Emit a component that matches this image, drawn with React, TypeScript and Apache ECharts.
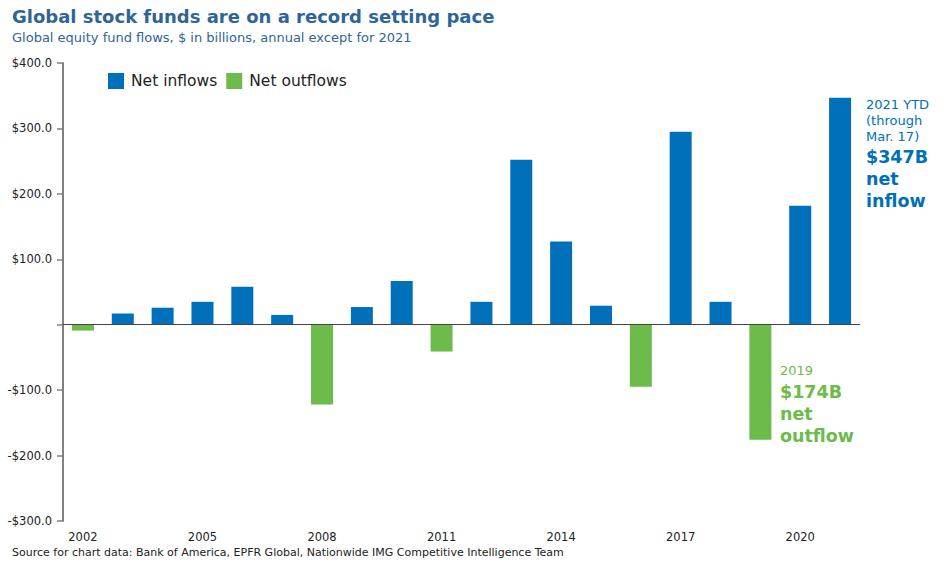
import React, { useEffect, useRef } from "react";
import * as echarts from "echarts";

const years = ["2002","2003","2004","2005","2006","2007","2008","2009","2010","2011","2012","2013","2014","2015","2016","2017","2018","2019","2020","2021"];
const flows = [-9, 17, 26, 35, 58, 15, -122, 27, 67, -41, 35, 252, 127, 29, -95, 295, 35, -176, 182, 347];
const yTicks = { min: -300, max: 400, interval: 100 };

const BLUE = "#0070BA";
const GREEN = "#6CBB4B";
const FONT = "'DejaVu Sans', 'Noto Sans', sans-serif";

export default function App() {
  const ref = useRef<HTMLDivElement>(null);
  useEffect(() => {
    const chart = echarts.init(ref.current!, null, { renderer: "svg" });
    const inflows = flows.map((v) => (v >= 0 ? v : "-"));
    const outflows = flows.map((v) => (v < 0 ? v : "-"));
    chart.setOption({
      animation: false,
      textStyle: { fontFamily: FONT },
      grid: { left: 63, top: 63, right: 90, bottom: 45 },
      legend: {
        left: 108,
        top: 73,
        padding: 0,
        itemWidth: 16,
        itemHeight: 16,
        itemGap: 9,
        icon: "rect",
        textStyle: { fontSize: 15.5, color: "#222", fontFamily: FONT, padding: [0, 0, 0, 2] },
        data: ["Net inflows", "Net outflows"],
      },
      xAxis: {
        type: "category",
        data: years,
        axisLine: { show: false, onZero: false },
        axisTick: { show: false },
        axisLabel: {
          interval: 2,
          fontSize: 11.5,
          color: "#222",
          margin: 10,
          fontFamily: FONT,
        },
      },
      yAxis: {
        type: "value",
        min: yTicks.min,
        max: yTicks.max,
        interval: yTicks.interval,
        splitLine: { show: false },
        axisLine: { show: true, lineStyle: { color: "#808080", width: 2 } },
        axisTick: { show: true, length: 6, lineStyle: { color: "#808080", width: 1.5 } },
        axisLabel: {
          fontSize: 11.5,
          color: "#222",
          margin: 11,
          fontFamily: FONT,
          formatter: (v: number) =>
            v === 0 ? "" : (v < 0 ? "-$" : "$") + Math.abs(v).toFixed(1),
        },
      },
      series: [
        {
          name: "Net inflows",
          type: "bar",
          data: inflows,
          barWidth: 22,
          barGap: "-100%",
          itemStyle: { color: BLUE },
          markLine: {
            silent: true,
            symbol: "none",
            label: { show: false },
            lineStyle: { color: "#444", width: 1.2, type: "solid" },
            data: [{ yAxis: 0 }],
          },
        },
        {
          name: "Net outflows",
          type: "bar",
          data: outflows,
          barWidth: 22,
          barGap: "-100%",
          itemStyle: { color: GREEN },
        },
      ],
      graphic: [
        {
          type: "text",
          left: 12,
          top: 7,
          style: {
            text: "Global stock funds are on a record setting pace",
            font: `bold 18px ${FONT}`,
            fill: "#2F6497",
          },
        },
        {
          type: "text",
          left: 12,
          top: 31,
          style: {
            text: "Global equity fund flows, $ in billions, annual except for 2021",
            font: `13px ${FONT}`,
            fill: "#2F6497",
          },
        },
        {
          type: "text",
          left: 866,
          top: 96,
          style: {
            text: "2021 YTD\n(through\nMar. 17)",
            font: `13px ${FONT}`,
            lineHeight: 16,
            fill: BLUE,
          },
        },
        {
          type: "text",
          left: 866,
          top: 146,
          style: {
            text: "$347B\nnet\ninflow",
            font: `bold 17.5px ${FONT}`,
            lineHeight: 22,
            fill: BLUE,
          },
        },
        {
          type: "text",
          left: 780,
          top: 364,
          style: {
            text: "2019",
            font: `13px ${FONT}`,
            fill: GREEN,
          },
        },
        {
          type: "text",
          left: 780,
          top: 381,
          style: {
            text: "$174B\nnet\noutflow",
            font: `bold 17.5px ${FONT}`,
            lineHeight: 22,
            fill: GREEN,
          },
        },
        {
          type: "text",
          left: 12,
          top: 547,
          style: {
            text: "Source for chart data: Bank of America, EPFR Global, Nationwide IMG Competitive Intelligence Team",
            font: `11px ${FONT}`,
            fill: "#222",
          },
        },
      ],
    });
    return () => chart.dispose();
  }, []);
  return <div ref={ref} style={{ width: 950, height: 566, position: "absolute", left: 0, top: 0 }} />;
}
